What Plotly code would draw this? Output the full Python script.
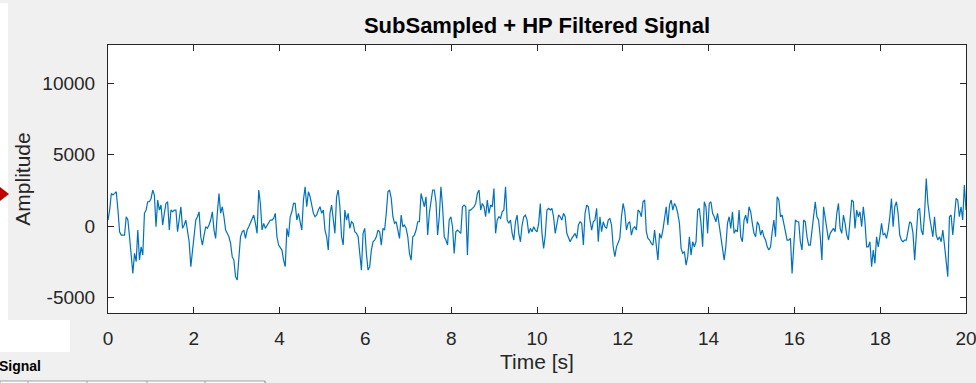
import numpy as np
import plotly.graph_objects as go

# ---- data ----
amplitude = [
    420, 1120, 2280, 2170, 2280, 2400, 1120, -400, -630, -630, -630, 650, 420, -750, -2140, -3310,
    -1910, -2490, -280, -2380, -1450, -2030, 890, 1120, 1700, 1700, 1930, 2520, 2170, -50, 1820, 1120,
    1470, 70, 890, 1580, 1700, -280, 1120, 1000, 1120, 1120, -400, 420, 1350, -160, 70,
    420, -400, -1100, -2840, -1680, -750, 420, 650, 1000, -750, -1330, -630, -50, -160, 70, 420, 1000,
    -280, -860, 890, 2280, 890, 1350, 650, -280, -510, -750, -1210, -2140, -2380, -3540, -3780, -2260,
    -750, -400, -280, -860, -280, -50, 190, 540, 770, 190, -510, 2520, 1580, -280, 190, -160, 70, 300, 420,
    420, 540, 890, -750, -1330, -1560, -1680, -2380, -2840, -160, -750, 650, 1000, 1580, 1580, 420, 890,
    300, -280, 1820, 2750, 1350, 2400, 2050, 1580, 890, 650, 770, 1120, 1350, 890, 1120, -280, -750, -1680,
    890, 1470, 420, -510, 2050, 2520, 1350, -750, -1330, 1120, 420, 890, -160, 300, 190, -400, -510,
    -750, -1910, -3080, -510, -160, -1910, -3080, -2840, -1680, -1100, -980, -750, -280, -400, -1330, -160,
    -280, 890, 2400, 2520, 1930, 650, 190, 300, -280, -860, 770, -50, 70, -160, -750, -1910, -2380, -750,
    -630, -280, 300, 300, 2280, 1820, 1350, 2050, -630, 890, 1820, 2520, 2520, 1700, -630, 650, 2750, 1350,
    -750, -980, -1330, 420, 650, -50, -1910, -400, -280, -400, -510, 1350, 1470, 1350, -2030, 1120, 1120,
    1240, 1350, 1580, 2280, 2520, 1120, 1580, 1350, 650, 1820, 890, 1470, 1350, 2630, -510, 420, 650, 540,
    1000, 1120, 2750, 420, 190, 420, -510, -980, 300, 770, -510, -1100, 70, 650, 770, 420, -510,
    -160, -400, -50, -280, -400, 190, 1580, -510, -1560, -630, 1120, 1240, 1120, 1240, 650, -510, 190, 770,
    650, 420, 890, 650, -510, -860, -1100, -860, -630, -510, -860, 70, 300, 190, -1330, 890, 1470, 1350,
    420, -280, 300, 420, 1240, -1100, 650, -400, 300, -50, -160, 420, 540, 70, -1450, -2140,
    -1450, -1100, -860, 650, 1580, 1000, -280, 190, 300, -630, -160, -50, -280, 1120, 1000, 650, 1700,
    1820, -400, -860, -980, -1210, -1330, -280, -1560, -2380, -510, -860, -280, 650, 1350, 70, 1470, 1820,
    1120, 1580, 1350, 890, 190, -1560, -1910, -1790, -2730, -2140, -750, -2030, -1100, -1450, -1100, 1120,
    1240, 190,
    -1450, 1700, 1350, -510, 1580, 1700, 890, 650, 300, 890, 70, -630, -1330, -2380, -1450, 190, 650, -160,
    1000, -510, -280, -400, 1120, -750, -1100, 420, 770, 190, 1350, 1000, 190, -510, -750, 300, 70, -630,
    -280, -750, -980, -1450, -1680, -1450, -400, 420, -750, 2050, 1820, 650, 770, 190, -280, -980,
    -980, -860, -3310, -1100, 420, 300, 300, -1100, -1680, 420, 300, -750, -1330, -1330, -400, 770, 1700,
    650, 420, -750, -2380, 1350, 540, 70, -980, -510, -280, -160, -400, 890, 1580, -160, -510, 770, 190,
    -630, -980, 190, 1820, 1700, -160, 1120, 650, 1000, -50, 1350, 300, -1450, -1450, -1100, -2840, -1680,
    -2610, -750, -1450, -750, 190, -630, -510, -860, -280, 650, 1930, -50, 1350, 1700, 890, -630, -980,
    -1100, -980, -980, -280, 300, 190, -510, -2380, -400, 1120, 1240, -280, -630, 890, 3330, 1580, 650, 70,
    -750, 650, -630, -980, -750, -1100, -280, -1330, -2380, -3540, 650, 770, -630, 890, 1930, 1820, 650,
    1350, 420, 2870, 1120,
]
t_start, t_end = 0.0, 20.0
x_ticks = [0, 2, 4, 6, 8, 10, 12, 14, 16, 18, 20]
x_tick_labels = ["0", "2", "4", "6", "8", "10", "12", "14", "16", "18", "20"]
y_ticks = [-5000, 0, 5000, 10000]
y_tick_labels = ["-5000", "0", "5000", "10000"]
y_range = [-6080, 12660]

time = np.linspace(t_start, t_end, len(amplitude))

TXT = "#262626"
FONT = "Liberation Sans, Arial, Helvetica, sans-serif"

fig = go.Figure()
fig.add_trace(go.Scatter(x=time, y=amplitude, mode="lines",
                         line=dict(color="#0072BD", width=1.2), hoverinfo="skip"))

L, R, T, B = 108, 10, 45, 70
W, H = 976, 383
pw, ph = W - L - R, H - T - B

def px(x):
    return (x - L) / pw

def py(y):
    return (H - B - y) / ph

shapes = [
    dict(type="rect", xref="paper", yref="paper", x0=px(0), x1=px(8), y0=py(3), y1=py(352),
         fillcolor="white", line_width=0, layer="below"),
    dict(type="rect", xref="paper", yref="paper", x0=px(0), x1=px(70), y0=py(320), y1=py(352),
         fillcolor="white", line_width=0, layer="below"),
    dict(type="rect", xref="paper", yref="paper", x0=px(0), x1=px(265), y0=py(381), y1=py(384),
         fillcolor="white", line=dict(color="#a0a0a0", width=1), layer="below"),
    dict(type="path", xref="paper", yref="paper",
         path=f"M {px(0)} {py(187)} L {px(9)} {py(194)} L {px(0)} {py(201)} Z",
         fillcolor="#c00000", line_width=0),
]
for xv in [28, 87, 147, 205, 265]:
    shapes.append(dict(type="line", xref="paper", yref="paper", x0=px(xv), x1=px(xv),
                       y0=py(381), y1=py(384), line=dict(color="#a0a0a0", width=1)))

fig.update_layout(
    width=W, height=H,
    margin=dict(l=L, r=R, t=T, b=B, autoexpand=False),
    paper_bgcolor="#f0f0f0", plot_bgcolor="white",
    showlegend=False,
    font=dict(family=FONT, color=TXT, size=19),
    title=dict(text="<b>SubSampled + HP Filtered Signal</b>", x=(L + pw / 2) / W, xanchor="center",
               y=1 - 25 / H, yanchor="middle", font=dict(size=22, color="#000000", family=FONT)),
    shapes=shapes,
    annotations=[dict(text="<b>Signal</b>", xref="paper", yref="paper", x=px(-3), y=py(366),
                      xanchor="left", yanchor="middle", showarrow=False,
                      font=dict(size=14, color="#000000", family=FONT))],
)
fig.update_xaxes(range=[t_start, t_end], tickvals=x_ticks, ticktext=x_tick_labels,
                 ticks="inside", ticklen=6, ticklabeloverflow="allow", automargin=False,
                 tickcolor=TXT, showline=True, linecolor=TXT, linewidth=1, mirror="ticks",
                 showgrid=False, zeroline=False, title=dict(text="Time [s]", standoff=6,
                 font=dict(size=21)), ticklabelstandoff=8)
fig.update_yaxes(range=y_range, tickvals=y_ticks, ticktext=y_tick_labels,
                 ticks="inside", ticklen=6, automargin=False,
                 tickcolor=TXT, showline=True, linecolor=TXT, linewidth=1, mirror="ticks",
                 showgrid=False, zeroline=False, title=dict(text="Amplitude", standoff=6,
                 font=dict(size=21)), ticklabelstandoff=8)

fig.write_html("out.html")
